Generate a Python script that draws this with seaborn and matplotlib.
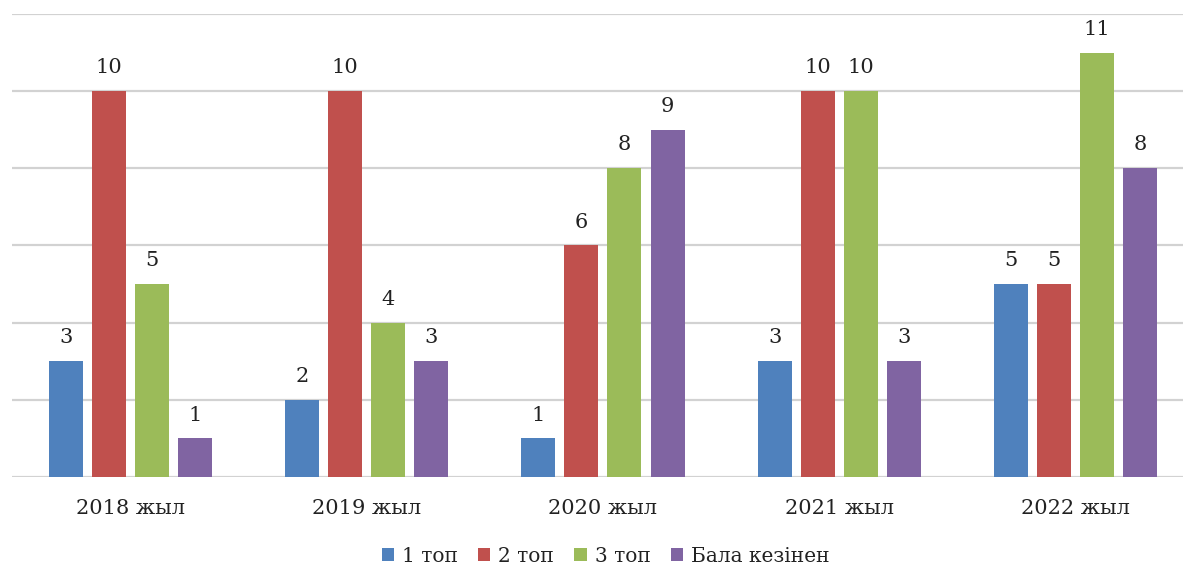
import matplotlib
matplotlib.use("Agg")
import matplotlib.pyplot as plt
import seaborn as sns
import pandas as pd

years = ["2018 жыл", "2019 жыл", "2020 жыл", "2021 жыл", "2022 жыл"]
series = ["1 топ", "2 топ", "3 топ", "Бала кезінен"]
group1 = [3, 2, 1, 3, 5]
group2 = [10, 10, 6, 10, 5]
group3 = [5, 4, 8, 10, 11]
childhood = [1, 3, 9, 3, 8]
colors = ["#4F81BD", "#C0504D", "#9BBB59", "#8064A2"]

rows = []
for name, vals in zip(series, [group1, group2, group3, childhood]):
    for y, v in zip(years, vals):
        rows.append({"year": y, "series": name, "value": v})
df = pd.DataFrame(rows)

sns.set_theme(style="white")
plt.rcParams["font.family"] = ["DejaVu Serif"]

fig = plt.figure(figsize=(11.83, 5.69), dpi=100)
# plot area runs slightly past the right edge of the canvas
ax = fig.add_axes([0.0101, 0.1617, 0.9992, 0.8137])

sns.barplot(data=df, x="year", y="value", hue="series", order=years,
            hue_order=series, palette=colors, width=0.728, gap=0.21,
            saturation=1, ax=ax, legend=True, edgecolor="none")

for cont in ax.containers:
    ax.bar_label(cont, fmt="%g", padding=10, fontsize=15, color="#222222")

ax.set_ylim(0, 12)
ax.set_xlim(-0.5, 4.5)
ax.set_yticks(range(0, 13, 2))
ax.set_yticklabels([])
ax.tick_params(axis="y", length=0)
ax.tick_params(axis="x", length=0, labelsize=15, pad=16, colors="#222222")
ax.yaxis.grid(True, color="#d2d2d2", linewidth=1.6)
ax.set_axisbelow(True)
for s in ax.spines.values():
    s.set_visible(False)
ax.set_xlabel("")
ax.set_ylabel("")

handles, labels = ax.get_legend_handles_labels()
ax.get_legend().remove()
fig.legend(handles, labels, loc="center", bbox_to_anchor=(0.512, 0.022),
           ncol=4, frameon=False, fontsize=14.5, handlelength=0.6, handleheight=0.6,
           handletextpad=0.4, columnspacing=1.0, labelcolor="#222222")

fig.savefig("out.png", dpi=100)
